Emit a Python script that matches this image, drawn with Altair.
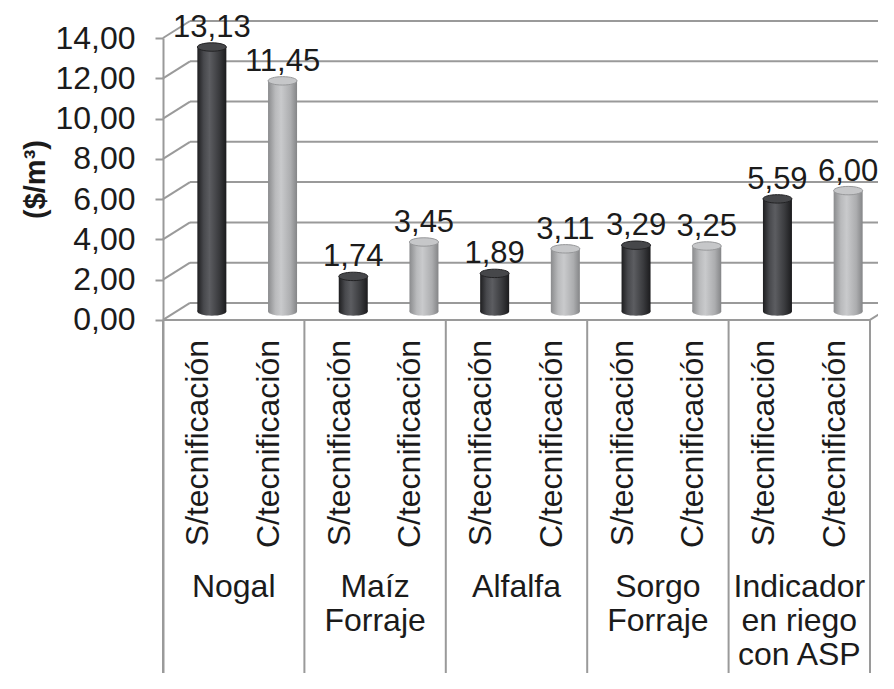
import altair as alt
import pandas as pd

# ---------------- data ----------------
groups = ["Nogal", "Maíz\nForraje", "Alfalfa", "Sorgo\nForraje", "Indicador\nen riego\ncon ASP"]
series = ["S/tecnificación", "C/tecnificación"]
s_vals = [13.13, 1.74, 1.89, 3.29, 5.59]
c_vals = [11.45, 3.45, 3.11, 3.25, 6.00]
y_ticks = [0, 2, 4, 6, 8, 10, 12, 14]
y_title = "($/m³)"

# ---------------- layout constants ----------------
FONT = "Liberation Sans"
TXT = "#1b1b1b"
LINE = "#9a9a9a"
W, H = 715, 635
SLOT_PX = 70.7          # pixels per bar slot
PX = 20.14              # pixels per value unit
YMAX = 14
YMIN = YMAX - H / PX
XMAX = W / SLOT_PX
DX = 27 / SLOT_PX       # 3D depth offset (x)
DY = 17 / PX            # 3D depth offset (y)
BAR_HALF = 14.5 / SLOT_PX
TOP_PAGE = 38


def yv(page_y):
    return YMAX - (page_y - TOP_PAGE) / PX


xscale = alt.Scale(domain=[0, XMAX], nice=False, zero=False)
yscale = alt.Scale(domain=[YMIN, YMAX], nice=False, zero=False)
yaxis = alt.Axis(
    values=y_ticks,
    labelExpr="replace(format(datum.value, '.2f'), '.', ',')",
    labelFont=FONT, labelFontSize=32, labelColor=TXT, labelPadding=20,
    labelFlush=False, labelOverlap=False,
    domainColor=LINE, domainWidth=2, tickColor=LINE, tickWidth=2, tickSize=8,
    grid=False,
    title=y_title, titleFont=FONT, titleFontSize=29, titleFontWeight="bold",
    titleColor=TXT, titleAngle=270, titleAlign="center", titleBaseline="middle",
    titleX=35 - 163, titleY=179 - TOP_PAGE,
)


def X(f):
    return alt.X(f, type="quantitative", scale=xscale, axis=None)


def Y(f):
    return alt.Y(f, type="quantitative", scale=yscale, axis=yaxis)


# ---------------- frame / walls ----------------
grid_df = pd.DataFrame({"v": y_ticks})
grid_df["yb"] = grid_df["v"] + DY
grid_df["x0"] = 0.0
grid_df["xb"] = DX
grid_df["xe"] = XMAX

back = alt.Chart(grid_df).mark_rule(color=LINE, strokeWidth=2).encode(
    x=X("xb"), x2="xe", y=Y("yb"))
diag = alt.Chart(grid_df).mark_rule(color=LINE, strokeWidth=2).encode(
    x=X("x0"), y=Y("v"), x2="xb", y2="yb")

n_slots = 2 * len(groups)
floor_df = pd.DataFrame({
    "x": [0.0, float(n_slots)],
    "x2": [float(n_slots), n_slots + DX],
    "y": [0.0, 0.0],
    "y2": [0.0, DY],
})
floor = alt.Chart(floor_df).mark_rule(color=LINE, strokeWidth=2).encode(
    x=X("x"), x2="x2", y=Y("y"), y2="y2")

sep_df = pd.DataFrame({"x": [2.0 * i for i in range(len(groups) + 1)]})
sep_df["y"] = 0.0
sep_df["y2"] = YMIN
seps = alt.Chart(sep_df).mark_rule(color=LINE, strokeWidth=2).encode(
    x=X("x"), y=Y("y"), y2="y2")

# ---------------- bars ----------------
rows = []
for g, grp in enumerate(groups):
    for s, vals in enumerate([s_vals, c_vals]):
        v = vals[g]
        slot = 2 * g + s + 0.5
        xc = slot + DX / 2
        rows.append({
            "group": grp, "series": series[s], "value": v,
            "slot": slot, "xc": xc, "xl": xc - BAR_HALF, "xr": xc + BAR_HALF,
            "base": DY / 2, "top": v + DY / 2,
            "label": f"{v:.2f}".replace(".", ","),
        })
bars = pd.DataFrame(rows)
dark = bars[bars["series"] == series[0]]
light = bars[bars["series"] == series[1]]


def grad(stops):
    return alt.Gradient(
        gradient="linear",
        stops=[alt.GradientStop(color=c, offset=o) for o, c in stops],
        x1=0, x2=1, y1=0, y2=0)


dark_grad = grad([(0, "#1e1e20"), (0.22, "#48494d"), (0.42, "#5c5d61"),
                  (0.75, "#3a3b3e"), (1, "#1b1b1d")])
light_grad = grad([(0, "#8a8b8d"), (0.25, "#b9babc"), (0.45, "#c9cacc"),
                   (0.78, "#acadaf"), (1, "#848587")])

ELLIPSE = "M-1,0A1,0.29,0,1,0,1,0A1,0.29,0,1,0,-1,0Z"
CAP_SIZE = (2 * BAR_HALF * SLOT_PX) ** 2


def bar_layers(df, g, cap_fill, cap_stroke):
    base = alt.Chart(df)
    bottom = base.mark_point(shape=ELLIPSE, size=CAP_SIZE, filled=True,
                             fill=g, opacity=1, strokeWidth=0).encode(
        x=X("xc"), y=Y("base"))
    body = base.mark_bar(color=g).encode(
        x=X("xl"), x2="xr", y=Y("top"), y2="base")
    cap = base.mark_point(shape=ELLIPSE, size=CAP_SIZE, filled=True,
                          fill=cap_fill, stroke=cap_stroke, strokeWidth=1,
                          opacity=1).encode(x=X("xc"), y=Y("top"))
    return [bottom, body, cap]


dark_layers = bar_layers(dark, dark_grad, "#46474a", "#222224")
light_layers = bar_layers(light, light_grad, "#c6c7c9", "#97989a")

values_txt = alt.Chart(bars).mark_text(
    font=FONT, fontSize=31, color=TXT, align="center",
    baseline="alphabetic", dy=-10).encode(
    x=X("xc"), y=Y("top"), text="label:N")

# ---------------- category labels ----------------
bars["lab_y"] = yv(340)
series_txt = alt.Chart(bars).mark_text(
    font=FONT, fontSize=32, color=TXT, angle=270, align="right",
    baseline="middle").encode(
    x=X("slot"), y=Y("lab_y"), text="series:N")

grp_df = pd.DataFrame({"group": groups})
grp_df["x"] = [2.0 * i + 1 for i in range(len(groups))]
grp_df["y"] = yv(597)
group_txt = alt.Chart(grp_df).mark_text(
    font=FONT, fontSize=32, color=TXT, align="center",
    baseline="alphabetic", lineBreak="\n", lineHeight=34).encode(
    x=X("x"), y=Y("y"), text="group:N")

chart = alt.layer(
    back, diag, floor, seps,
    *dark_layers, *light_layers,
    values_txt, series_txt, group_txt,
).properties(
    width=W, height=H,
    padding={"left": 155, "top": 30, "right": 0, "bottom": 0},
    autosize=alt.AutoSizeParams(type="none"),
    background="white",
).configure_view(stroke=None)

chart.save("out.html", embed_options={"renderer": "svg", "actions": False})
